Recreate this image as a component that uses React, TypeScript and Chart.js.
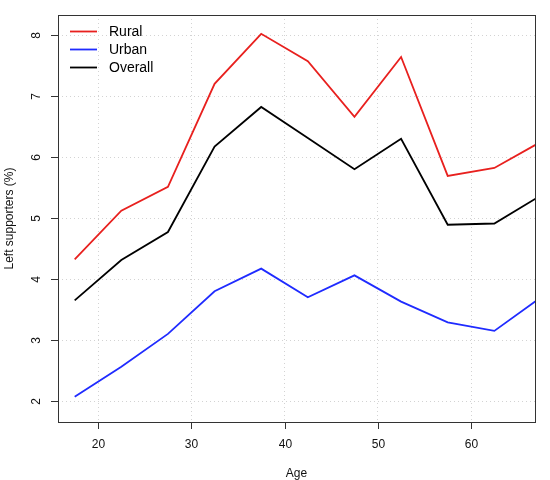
import React, { useEffect, useRef } from "react";
import { Chart, registerables } from "chart.js";

Chart.register(...registerables);

const ages = [17.5, 22.5, 27.5, 32.5, 37.5, 42.5, 47.5, 52.5, 57.5, 62.5, 67.5];
const rural = [4.32, 5.12, 5.51, 7.2, 8.02, 7.57, 6.66, 7.64, 5.69, 5.82, 6.25];
const urban = [2.07, 2.56, 3.1, 3.8, 4.17, 3.7, 4.06, 3.63, 3.29, 3.15, 3.7];
const overall = [3.65, 4.31, 4.77, 6.17, 6.82, 6.31, 5.8, 6.3, 4.89, 4.91, 5.37];
const seriesNames = ["Rural", "Urban", "Overall"];
const seriesColors = ["#e8201e", "#1f2bff", "#000000"];
const xTicks = [20, 30, 40, 50, 60];
const yTicks = [2, 3, 4, 5, 6, 7, 8];
const xTitle = "Age";
const yTitle = "Left supporters (%)";

const FONT = "'Liberation Sans', Arial, Helvetica, sans-serif";

const decor = {
  id: "rdecor",
  afterDraw(chart: any) {
    const { ctx, chartArea: a, scales } = chart;
    const xs = scales.x;
    const ys = scales.y;
    ctx.save();
    // box
    ctx.strokeStyle = "#333";
    ctx.lineWidth = 1;
    ctx.strokeRect(Math.round(a.left) + 0.5, Math.round(a.top) + 0.5, Math.round(a.right - a.left), Math.round(a.bottom - a.top));
    // x ticks
    ctx.fillStyle = "#111";
    ctx.font = `12px ${FONT}`;
    ctx.textAlign = "center";
    ctx.textBaseline = "middle";
    xTicks.forEach((v) => {
      const px = Math.round(xs.getPixelForValue(v)) + 0.5;
      ctx.beginPath();
      ctx.moveTo(px, a.bottom);
      ctx.lineTo(px, a.bottom + 7);
      ctx.stroke();
      ctx.fillText(String(v), px, a.bottom + 23);
    });
    // y ticks
    yTicks.forEach((v) => {
      const py = Math.round(ys.getPixelForValue(v)) + 0.5;
      ctx.beginPath();
      ctx.moveTo(a.left - 7, py);
      ctx.lineTo(a.left, py);
      ctx.stroke();
      ctx.save();
      ctx.translate(a.left - 21, py);
      ctx.rotate(-Math.PI / 2);
      ctx.fillText(String(v), 0, 0);
      ctx.restore();
    });
    // titles
    ctx.fillText(xTitle, (a.left + a.right) / 2, a.bottom + 52);
    ctx.save();
    ctx.translate(10, (a.top + a.bottom) / 2);
    ctx.rotate(-Math.PI / 2);
    ctx.fillText(yTitle, 0, 0);
    ctx.restore();
    // legend
    ctx.font = `14px ${FONT}`;
    ctx.textAlign = "left";
    const rowsY = [31.5, 49.5, 67.5];
    seriesNames.forEach((name, i) => {
      ctx.strokeStyle = seriesColors[i];
      ctx.lineWidth = 1.8;
      ctx.beginPath();
      ctx.moveTo(70, rowsY[i]);
      ctx.lineTo(97, rowsY[i]);
      ctx.stroke();
      ctx.fillStyle = "#000";
      ctx.fillText(name, 109, rowsY[i] + 1);
    });
    ctx.restore();
  },
};

export default function App() {
  const ref = useRef<HTMLCanvasElement | null>(null);
  useEffect(() => {
    document.body.style.margin = "0";
    const series = [rural, urban, overall];
    const chart = new Chart(ref.current as HTMLCanvasElement, {
      type: "line",
      data: {
        datasets: series.map((s, i) => ({
          label: seriesNames[i],
          data: s.map((y, j) => ({ x: ages[j], y })),
          borderColor: seriesColors[i],
          borderWidth: 1.8,
          pointRadius: 0,
          tension: 0,
          fill: false,
          clip: 0,
        })),
      },
      options: {
        responsive: false,
        animation: false,
        layout: { padding: { left: 58, top: 15, right: 15, bottom: 58 } },
        plugins: { legend: { display: false }, tooltip: { enabled: false } },
        scales: {
          x: {
            type: "linear",
            min: 15.71,
            max: 66.86,
            afterBuildTicks: (s: any) => {
              s.ticks = xTicks.map((v) => ({ value: v }));
            },
            ticks: { display: false },
            grid: { color: "#d3d3d3", lineWidth: 1, drawTicks: false },
            border: { display: false, dash: [1, 3] },
          },
          y: {
            type: "linear",
            min: 1.656,
            max: 8.328,
            afterBuildTicks: (s: any) => {
              s.ticks = yTicks.map((v) => ({ value: v }));
            },
            ticks: { display: false },
            grid: { color: "#d3d3d3", lineWidth: 1, drawTicks: false },
            border: { display: false, dash: [1, 3] },
          },
        },
      },
      plugins: [decor],
    } as any);
    return () => chart.destroy();
  }, []);
  return (
    <div style={{ position: "fixed", left: 0, top: 0, width: 550, height: 480, background: "#fff" }}>
      <canvas ref={ref} width={550} height={480} style={{ width: 550, height: 480 }} />
    </div>
  );
}
